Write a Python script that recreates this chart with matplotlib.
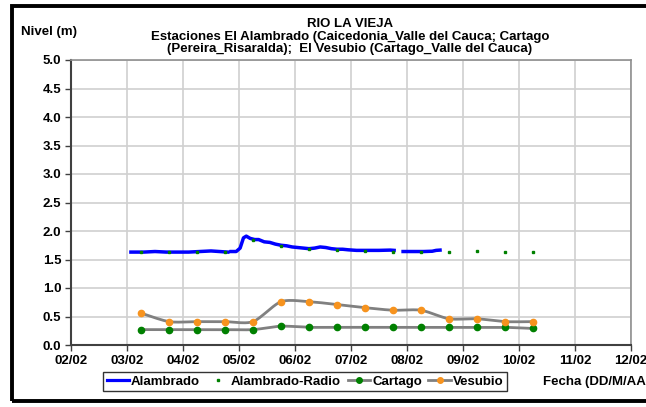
import numpy as np
import matplotlib
matplotlib.use("Agg")
import matplotlib.pyplot as plt
from matplotlib.lines import Line2D
from matplotlib.patches import Rectangle

plt.rcParams['font.family'] = ['Liberation Sans', 'DejaVu Sans']
plt.rcParams['font.weight'] = 'bold'

# Fechas: dia de febrero (eje x numerico)
tick_days = [2, 3, 4, 5, 6, 7, 8, 9, 10, 11, 12]
tick_labels = ['02/02', '03/02', '04/02', '05/02', '06/02', '07/02',
               '08/02', '09/02', '10/02', '11/02', '12/02']

# Alambrado (registro continuo, NaN = sin dato)
alambrado_t = [3.07, 3.3, 3.5, 3.7, 3.9, 4.1, 4.3, 4.5, 4.65, 4.80, 4.83,
               4.86, 4.95, 5.02, 5.08, 5.13, 5.2, 5.28, 5.35, 5.45, 5.55,
               5.65, 5.75, 5.85, 5.95, 6.05, 6.15, 6.25, 6.35, 6.45, 6.55,
               6.65, 6.75, 6.85, 6.95, 7.1, 7.3, 7.5, 7.7, 7.77, 7.85,
               7.93, 8.1, 8.3, 8.45, 8.52, 8.59]
alambrado_y = [1.63, 1.63, 1.64, 1.63, 1.63, 1.63, 1.64, 1.65, 1.64, 1.63, np.nan,
               1.64, 1.64, 1.70, 1.88, 1.91, 1.87, 1.85, 1.85, 1.81, 1.80,
               1.77, 1.75, 1.74, 1.72, 1.71, 1.70, 1.69, 1.70, 1.72, 1.71,
               1.69, 1.68, 1.68, 1.67, 1.66, 1.66, 1.66, 1.665, 1.66, np.nan,
               1.64, 1.64, 1.64, 1.645, 1.66, 1.665]

# Lecturas puntuales (cada 12 h)
lect_t = [3.25, 3.75, 4.25, 4.75, 5.25, 5.75, 6.25, 6.75, 7.25, 7.75,
          8.25, 8.75, 9.25, 9.75, 10.25]
radio_y = [1.64, 1.64, 1.64, 1.64, 1.84, 1.74, 1.68, 1.67, 1.655, 1.64,
           1.63, 1.63, 1.655, 1.64, 1.64]
cartago_y = [0.27, 0.27, 0.27, 0.27, 0.27, 0.33, 0.31, 0.31, 0.31, 0.31,
             0.31, 0.31, 0.31, 0.31, 0.29]
vesubio_y = [0.56, 0.41, 0.41, 0.41, 0.41, 0.76, 0.76, 0.71, 0.655, 0.61,
             0.61, 0.46, 0.46, 0.41, 0.41]


def suavizar(x, y, n=20):
    # curva Catmull-Rom entre puntos consecutivos (linea suavizada)
    x = np.asarray(x, float)
    y = np.asarray(y, float)
    px = np.concatenate([[x[0]], x, [x[-1]]])
    py = np.concatenate([[y[0]], y, [y[-1]]])
    xs, ys = [], []
    s = np.linspace(0, 1, n, endpoint=False)
    for i in range(1, len(px) - 2):
        for arr, out in ((px, xs), (py, ys)):
            p0, p1, p2, p3 = arr[i - 1], arr[i], arr[i + 1], arr[i + 2]
            m1 = (p2 - p0) / 2 * 0.8
            m2 = (p3 - p1) / 2 * 0.8
            h00 = 2 * s**3 - 3 * s**2 + 1
            h10 = s**3 - 2 * s**2 + s
            h01 = -2 * s**3 + 3 * s**2
            h11 = s**3 - s**2
            out.extend(h00 * p1 + h10 * m1 + h01 * p2 + h11 * m2)
    xs.append(x[-1])
    ys.append(y[-1])
    return xs, ys


fig = plt.figure(figsize=(6.46, 4.07), dpi=100)
ax = fig.add_axes([71 / 646, 62 / 407, 560 / 646, 285 / 407])

gris = '#808080'
verde = '#008000'
naranja = '#F7931E'

ax.plot(alambrado_t, alambrado_y, color='#0000FF', lw=2.5, zorder=3)
ax.plot(lect_t, radio_y, ls='none', marker='s', ms=1.6, color=verde, zorder=4)

cx, cy = suavizar(lect_t, cartago_y)
ax.plot(cx, cy, color=gris, lw=2.0, zorder=3)
ax.plot(lect_t, cartago_y, ls='none', marker='o', ms=4.5, color=verde, zorder=4)

vx, vy = suavizar(lect_t, vesubio_y)
ax.plot(vx, vy, color=gris, lw=2.0, zorder=3)
ax.plot(lect_t, vesubio_y, ls='none', marker='o', ms=4.5, color=naranja, zorder=4)

ax.set_xlim(2, 12)
ax.set_ylim(0, 5)
ax.set_xticks(tick_days)
ax.set_xticklabels(tick_labels)
ax.set_yticks(np.arange(0, 5.01, 0.5))
ax.set_yticklabels(['%.1f' % v for v in np.arange(0, 5.01, 0.5)])
ax.tick_params(labelsize=9.5, length=4, width=1, color='#404040', pad=3)
ax.grid(True, color='#D0D0D0', lw=1.2)
ax.set_axisbelow(True)
for lado in ('left', 'bottom'):
    ax.spines[lado].set_color('#404040')
    ax.spines[lado].set_linewidth(1.5)
for lado in ('top', 'right'):
    ax.spines[lado].set_color('#909090')
    ax.spines[lado].set_linewidth(1.2)

fig.text(350 / 646, 1 - 18 / 407,
         'RIO LA VIEJA\n'
         'Estaciones El Alambrado (Caicedonia_Valle del Cauca; Cartago\n'
         '(Pereira_Risaralda);  El Vesubio (Cartago_Valle del Cauca)',
         ha='center', va='top', fontsize=9.5, fontweight='bold',
         linespacing=1.08, transform=fig.transFigure)
fig.text(21 / 646, 1 - 32 / 407, 'Nivel (m)', ha='left', va='center',
         fontsize=9.5, fontweight='bold')
fig.text(543 / 646, 1 - 382 / 407, 'Fecha (DD/M/AA)', ha='left', va='center',
         fontsize=9.5, fontweight='bold')

handles = [
    Line2D([], [], color='#0000FF', lw=2.3),
    Line2D([], [], ls='none', marker='s', ms=1.6, color=verde),
    Line2D([], [], color=gris, lw=2.0, marker='o', ms=4, mfc=verde, mec=verde),
    Line2D([], [], color=gris, lw=2.0, marker='o', ms=4, mfc=naranja, mec=naranja),
]
nombres = ['Alambrado', 'Alambrado-Radio', 'Cartago', 'Vesubio']
leg = fig.legend(handles, nombres, loc='center', ncol=4,
                 bbox_to_anchor=(305 / 646, 1 - 381.5 / 407),
                 prop={'size': 9.5, 'weight': 'bold'}, frameon=True,
                 fancybox=False, edgecolor='black', handlelength=1.7,
                 handletextpad=0.15, columnspacing=0.5, borderpad=0.25)
leg.get_frame().set_linewidth(1.0)

# marco exterior del grafico
fig.patches.append(Rectangle((12 / 646, 6 / 407), 660 / 646, 395 / 407,
                             transform=fig.transFigure, fill=False,
                             edgecolor='black', lw=2.8, zorder=10))

fig.savefig('out.png', dpi=100)
